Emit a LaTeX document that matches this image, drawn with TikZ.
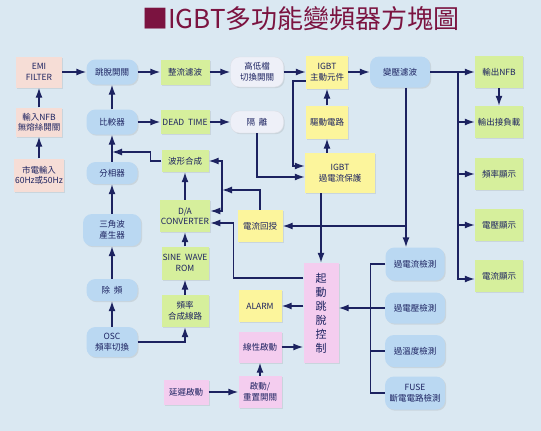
\documentclass[tikz,border=0pt]{standalone}
\usepackage{fontspec}
\newfontfamily\cjk{Noto Sans CJK TC}
\usetikzlibrary{arrows.meta,shadows}
\definecolor{bgblue}{HTML}{DAE8F2}
\definecolor{ink}{HTML}{1C2260}
\definecolor{maroon}{HTML}{7B1340}
\definecolor{peach}{HTML}{F6DDD6}
\definecolor{skyblue}{HTML}{BAD8F2}
\definecolor{limegreen}{HTML}{D6EF9C}
\definecolor{lemon}{HTML}{FCF59C}
\definecolor{lilac}{HTML}{F4CDEF}
\definecolor{pale}{HTML}{EEF0F8}

\begin{document}
\begin{tikzpicture}[x=1pt,y=-1pt,
    box/.style={inner sep=1pt,align=center,text=ink,
      font=\cjk\fontsize{8.5}{10.5}\selectfont,
      drop shadow={shadow xshift=1.2pt,shadow yshift=-1.2pt,opacity=0.18}},
    wh/.style 2 args={minimum width=#1pt,minimum height=#2pt},
    peachbox/.style={box,fill=peach},
    bluebox/.style={box,fill=skyblue,rounded corners=9pt},
    greenbox/.style={box,fill=limegreen},
    yellowbox/.style={box,fill=lemon},
    pinkbox/.style={box,fill=lilac},
    palebox/.style={box,fill=pale,draw=pale!85!gray,rounded corners=9pt},
    wire/.style={draw=ink,line width=1.4pt},
    link/.style={wire,-{Latex[length=10pt,width=7pt]}}]
    \useasboundingbox[fill=bgblue] (0,0) rectangle (541,431);
    %% title
    \node[text=maroon,font=\cjk\fontsize{26}{28}\selectfont] (title) at (301,19) {■IGBT多功能變頻器方塊圖};
    %% input side
    \node[peachbox,wh={46}{31}] (emi) at (39,72) {EMI\\FILTER};
    \node[peachbox,wh={46}{29}] (nfbin) at (39,122) {輸入NFB\\無熔絲開關};
    \node[peachbox,wh={46}{33}] (mains) at (39,175) {市電輸入\\60Hz或50Hz};
    %% control chain
    \node[bluebox,wh={51}{25}] (trip) at (112,72) {跳脫開關};
    \node[bluebox,wh={51}{25}] (comp) at (112,122) {比較器};
    \node[bluebox,wh={51}{22}] (phase) at (112,173) {分相器};
    \node[bluebox,wh={58}{32}] (tri) at (112,230) {三角波\\產生器};
    \node[bluebox,wh={51}{22}] (div) at (112,290) {除\ \ 頻};
    \node[bluebox,wh={51}{30}] (osc) at (112,342) {OSC\\頻率切換};
    %% sine path
    \node[greenbox,wh={49}{25}] (rect) at (185,72) {整流濾波};
    \node[greenbox,wh={49}{24}] (dead) at (185,122) {DEAD\ \ TIME};
    \node[greenbox,wh={47}{22}] (wave) at (185,161) {波形合成};
    \node[greenbox,wh={47}{32}] (dac) at (185,216) {D/A\\CONVERTER};
    \node[greenbox,wh={47}{33}] (rom) at (185,263) {SINE\ \ WAVE\\ROM};
    \node[greenbox,wh={47}{32}] (fsyn) at (185,311) {頻率\\合成線路};
    \node[pinkbox,wh={45}{25}] (delay) at (186,392) {延遲啟動};
    %% middle column
    \node[palebox,wh={53}{30}] (hilo) at (257,72) {高低檔\\切換開關};
    \node[palebox,wh={53}{22}] (iso) at (257,122) {隔\ \ 離};
    \node[yellowbox,wh={45}{32}] (cfb) at (260,226) {電流回授};
    \node[yellowbox,wh={43}{32}] (alarm) at (260,306) {ALARM};
    \node[pinkbox,wh={43}{31}] (soft) at (260,347) {線性啟動};
    \node[pinkbox,wh={43}{32}] (reset) at (260,392) {啟動/\\重置開關};
    %% power stage
    \node[yellowbox,wh={42}{33}] (igbt) at (327,72) {IGBT\\主動元件};
    \node[yellowbox,wh={42}{33}] (drv) at (327,122) {驅動電路};
    \node[yellowbox,wh={70}{40}] (ocp) at (340,173) {IGBT\\過電流保護};
    \node[pinkbox,wh={35}{100},font=\cjk\fontsize{11}{14}\selectfont] (tripctl) at (321,313) {起\\動\\跳\\脫\\控\\制};
    %% detection
    \node[bluebox,wh={60}{31}] (xfmr) at (400,72) {變壓濾波};
    \node[bluebox,wh={59}{33}] (ocd) at (415,264) {過電流檢測};
    \node[bluebox,wh={60}{31}] (ovd) at (415,308) {過電壓檢測};
    \node[bluebox,wh={60}{32}] (otd) at (415,351) {過溫度檢測};
    \node[bluebox,wh={60}{33}] (fuse) at (415,393) {FUSE\\斷電電路檢測};
    %% output side
    \node[greenbox,wh={48}{32}] (nfbout) at (499,72) {輸出NFB};
    \node[greenbox,wh={48}{32}] (load) at (499,122) {輸出接負載};
    \node[greenbox,wh={48}{32}] (fdisp) at (499,174) {頻率顯示};
    \node[greenbox,wh={48}{32}] (vdisp) at (499,225) {電壓顯示};
    \node[greenbox,wh={48}{32}] (idisp) at (499,276) {電流顯示};
    %% junctions
    \coordinate (jp) at (112,152);
    \coordinate (jw) at (222,190);
    \coordinate (jc) at ([xshift=6pt]xfmr.south |- cfb.east);
    \coordinate (bt) at ([xshift=-17pt]nfbout.west);
    %%% arrows
    \draw[link] (mains.north) -- (nfbin.south);
    \draw[link] (nfbin.north) -- (emi.south);
    \draw[link] (emi.east) -- (trip.west);
    \draw[link] (trip.east) -- (rect.west);
    \draw[link] (rect.east) -- (hilo.west);
    \draw[link] (hilo.east) -- (igbt.west);
    \draw[link] (igbt.east) -- (xfmr.west);
    \draw[link] (comp.north) -- (trip.south);
    \draw[link] (phase.north) -- (comp.south);
    \draw[link] (tri.north) -- (phase.south);
    \draw[link] (div.north) -- (tri.south);
    \draw[link] (osc.north) -- (div.south);
    \draw[link] (osc.east) -| (fsyn.south);
    \draw[link] (fsyn.north) -- (rom.south);
    \draw[link] (rom.north) -- (dac.south);
    \draw[link] (dac.north) -- (wave.south);
    \draw[link] (wave.west) -- ++(-11,0) |- (jp);
    \draw[link] (comp.east) -- (dead.west);
    \draw[link] (dead.east) -- (iso.west);
    \draw[link] (iso.south) |- ([yshift=-4pt]ocp.west);
    \draw[link] ([yshift=-9pt]igbt.west) -- ++(-13,0) |- ([yshift=7pt]ocp.west);
    \draw[link] (drv.south |- ocp.north) -- (drv.south);
    \draw[link] (drv.north) -- (igbt.south);
    \draw[link] (ocp.south -| tripctl.north) -- (tripctl.north);
    \draw[link] ([xshift=6pt]xfmr.south) -- ([xshift=6pt]xfmr.south |- ocd.north);
    \draw[link] (jc) -- (cfb.east);
    \draw[link] (cfb.north) |- (jw);
    \draw[link] (jw) |- (wave.east);
    \draw[link] (jw) |- ([yshift=5pt]dac.east);
    \draw[link] ([yshift=35pt]tripctl.west) -| ([xshift=23pt,yshift=-7pt]dac.east) -- ([yshift=-7pt]dac.east);
    \draw[link] (tripctl.west |- alarm.east) -- (alarm.east);
    \draw[link] (soft.east) -- (tripctl.west |- soft.east);
    \draw[link] (reset.north) -- (soft.south);
    \draw[link] (delay.east) -- (reset.west);
    %%% detection bus
    \draw[wire] (ocd.west) -- ++(-15,0) |- (fuse.west);
    \draw[wire] (otd.west) -- ++(-15,0);
    \draw[link] (ovd.west) -- (tripctl.east |- ovd.west);
    %%% output bus
    \draw[link] (xfmr.east) -- (nfbout.west);
    \draw[link] (bt) |- ([yshift=-3pt]idisp.west);
    \foreach \n in {load,fdisp,vdisp}
        \draw[link] (bt |- \n.west) -- (\n.west);
    \draw[link] (nfbout.south) -- (load.north);
\end{tikzpicture}
\end{document}
